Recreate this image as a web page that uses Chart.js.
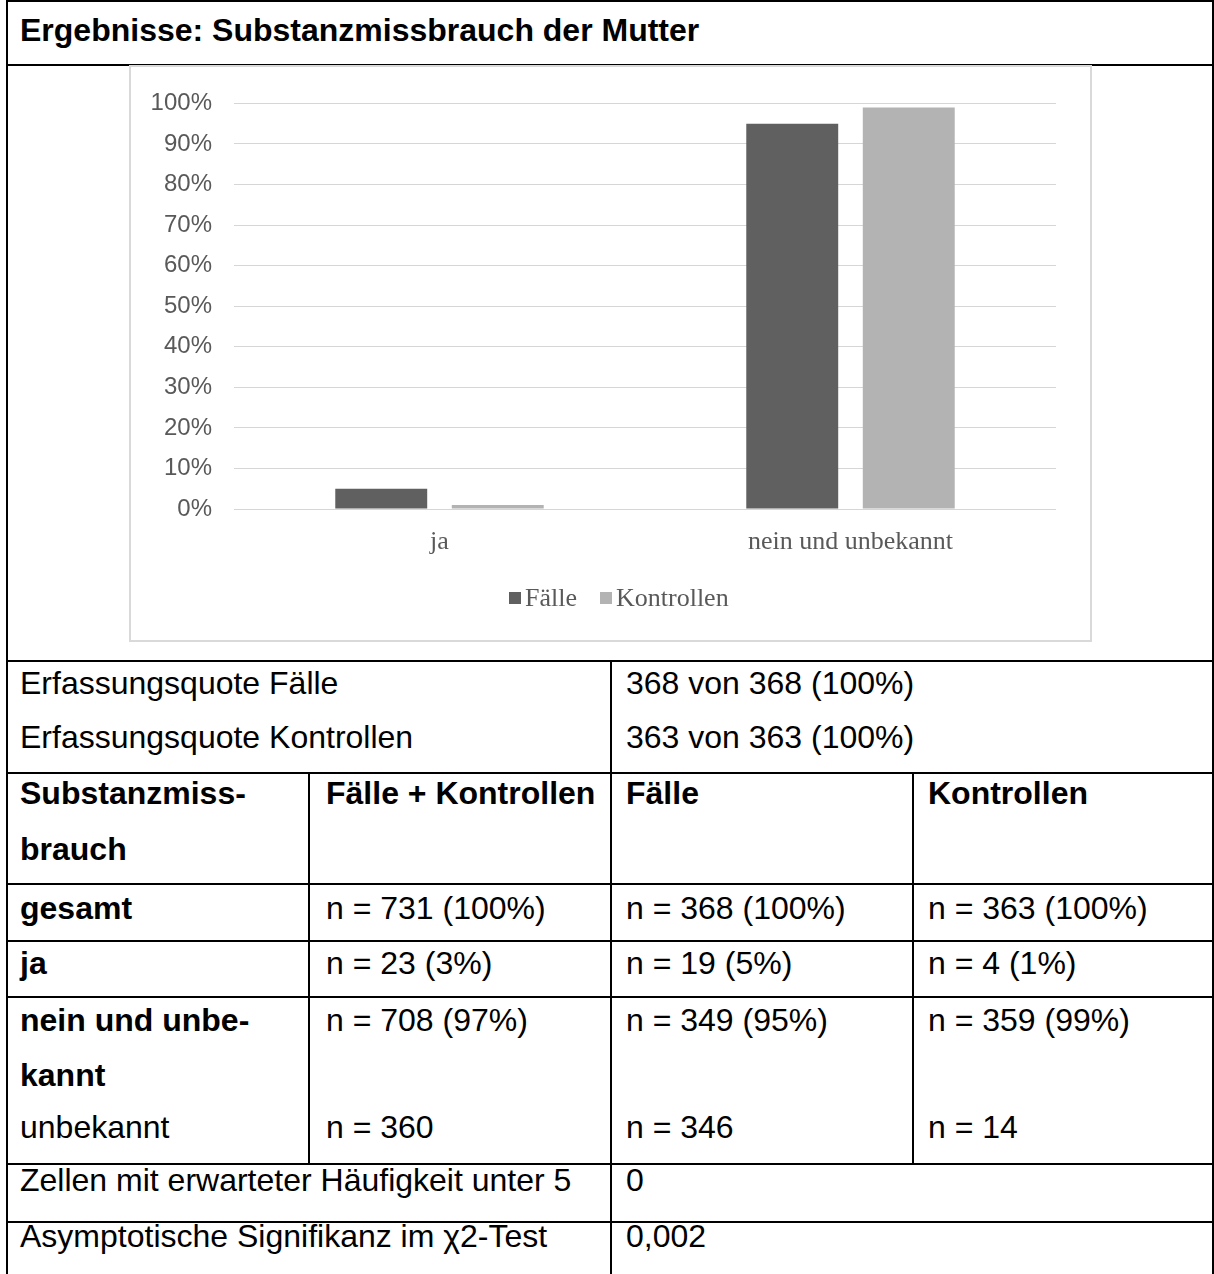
<!DOCTYPE html>
<html lang="de">
<head>
<meta charset="utf-8">
<title>Ergebnisse: Substanzmissbrauch der Mutter</title>
<script src="https://cdn.jsdelivr.net/npm/chart.js@4.4.1/dist/chart.umd.min.js"></script>
<style>
  html, body { margin: 0; padding: 0; background: #fff; }
  body {
    width: 1214px; height: 1274px; position: relative; overflow: hidden;
    font-family: "Liberation Sans", Arial, sans-serif; color: #000;
  }
  .h { position: absolute; height: 2px; background: #000; }
  .v { position: absolute; width: 2px; background: #000; }
  .t { position: absolute; font-size: 32px; line-height: 40px; height: 40px; white-space: nowrap; }
  .b { font-weight: bold; }
  #box {
    position: absolute; left: 129px; top: 65px; width: 963px; height: 577px;
    border: 2px solid #d9d9d9; box-sizing: border-box;
  }
  #chartWrap { position: absolute; left: 131px; top: 67px; width: 959px; height: 573px; }
  #legend {
    position: absolute; top: 583px; left: 509px; height: 30px;
    display: flex; align-items: center;
    font-family: "Liberation Serif", "Times New Roman", serif; font-size: 26px; color: #595959;
  }
  .item { display: flex; align-items: center; margin-right: 23px; }
  .sw { display: inline-block; width: 12px; height: 12px; margin-right: 4px; }
</style>
</head>
<body>

<!-- table rules -->
<div class="h" style="left:6px;top:0;width:1208px"></div>
<div class="h" style="left:6px;top:64px;width:1208px"></div>
<div class="h" style="left:6px;top:660px;width:1208px"></div>
<div class="h" style="left:6px;top:772px;width:1208px"></div>
<div class="h" style="left:6px;top:883px;width:1208px"></div>
<div class="h" style="left:6px;top:940px;width:1208px"></div>
<div class="h" style="left:6px;top:996px;width:1208px"></div>
<div class="h" style="left:6px;top:1163px;width:1208px"></div>
<div class="h" style="left:6px;top:1221px;width:1208px"></div>
<div class="v" style="left:6px;top:0;height:1274px"></div>
<div class="v" style="left:1212px;top:0;height:1274px"></div>
<div class="v" style="left:610px;top:660px;height:614px"></div>
<div class="v" style="left:308px;top:772px;height:392px"></div>
<div class="v" style="left:912px;top:772px;height:392px"></div>

<!-- heading -->
<div class="t b" style="left:20px;top:10px">Ergebnisse: Substanzmissbrauch der Mutter</div>

<!-- chart -->
<div id="box"></div>
<div id="chartWrap"><canvas id="c" width="959" height="573"></canvas></div>
<div id="legend"></div>

<!-- coverage -->
<div class="t" style="left:20px;top:663px">Erfassungsquote Fälle</div>
<div class="t" style="left:626px;top:663px">368 von 368 (100%)</div>
<div class="t" style="left:20px;top:717px">Erfassungsquote Kontrollen</div>
<div class="t" style="left:626px;top:717px">363 von 363 (100%)</div>

<!-- header row -->
<div class="t b" style="left:20px;top:773px">Substanzmiss-</div>
<div class="t b" style="left:20px;top:829px">brauch</div>
<div class="t b" style="left:326px;top:773px">Fälle + Kontrollen</div>
<div class="t b" style="left:626px;top:773px">Fälle</div>
<div class="t b" style="left:928px;top:773px">Kontrollen</div>

<!-- gesamt -->
<div class="t b" style="left:20px;top:888px">gesamt</div>
<div class="t" style="left:326px;top:888px">n = 731 (100%)</div>
<div class="t" style="left:626px;top:888px">n = 368 (100%)</div>
<div class="t" style="left:928px;top:888px">n = 363 (100%)</div>

<!-- ja -->
<div class="t b" style="left:20px;top:943px">ja</div>
<div class="t" style="left:326px;top:943px">n = 23 (3%)</div>
<div class="t" style="left:626px;top:943px">n = 19 (5%)</div>
<div class="t" style="left:928px;top:943px">n = 4 (1%)</div>

<!-- nein und unbekannt -->
<div class="t b" style="left:20px;top:1000px">nein und unbe-</div>
<div class="t b" style="left:20px;top:1055px">kannt</div>
<div class="t" style="left:326px;top:1000px">n = 708 (97%)</div>
<div class="t" style="left:626px;top:1000px">n = 349 (95%)</div>
<div class="t" style="left:928px;top:1000px">n = 359 (99%)</div>
<div class="t" style="left:20px;top:1107px">unbekannt</div>
<div class="t" style="left:326px;top:1107px">n = 360</div>
<div class="t" style="left:626px;top:1107px">n = 346</div>
<div class="t" style="left:928px;top:1107px">n = 14</div>

<!-- test statistics -->
<div class="t" style="left:20px;top:1160px">Zellen mit erwarteter Häufigkeit unter 5</div>
<div class="t" style="left:626px;top:1160px">0</div>
<div class="t" style="left:20px;top:1216px">Asymptotische Signifikanz im χ2-Test</div>
<div class="t" style="left:626px;top:1216px">0,002</div>

<script>
// Anteile in Prozent je Kategorie
const categories = ["ja", "nein und unbekannt"];
const seriesNames = ["Fälle", "Kontrollen"];
const faelleValues = [5, 95];
const kontrollenValues = [1, 99];
const seriesColors = ["#606060", "#b3b3b3"];
const yTickValues = [0, 10, 20, 30, 40, 50, 60, 70, 80, 90, 100];

const seriesValues = [faelleValues, kontrollenValues];

const chart = new Chart(document.getElementById("c"), {
  type: "bar",
  data: {
    labels: categories,
    datasets: seriesNames.map((name, i) => ({
      label: name,
      data: seriesValues[i],
      backgroundColor: seriesColors[i],
      borderWidth: 0,
      categoryPercentage: 0.567,
      barPercentage: 0.789
    }))
  },
  options: {
    responsive: false,
    animation: false,
    devicePixelRatio: 1,
    layout: { padding: { top: 34, right: 34, left: 0, bottom: 0 } },
    plugins: { legend: { display: false }, tooltip: { enabled: false } },
    scales: {
      x: {
        grid: { display: false, drawTicks: false },
        border: { display: false },
        ticks: {
          padding: 18,
          color: "#595959",
          font: { family: "'Liberation Serif', 'Times New Roman', serif", size: 26 }
        },
        afterFit(scale) { scale.height = 131; }
      },
      y: {
        min: yTickValues[0],
        max: yTickValues[yTickValues.length - 1],
        afterBuildTicks(scale) { scale.ticks = yTickValues.map(v => ({ value: v })); },
        ticks: {
          callback: v => v + "%",
          padding: 22,
          color: "#595959",
          font: { family: "'Liberation Sans', Arial, sans-serif", size: 24 }
        },
        grid: { color: "#d6d6d6", lineWidth: 1, drawTicks: false },
        border: { display: false },
        afterFit(scale) { scale.width = 103; }
      }
    }
  }
});

// Legende unter dem Diagramm
const legend = document.getElementById("legend");
seriesNames.forEach((name, i) => {
  const item = document.createElement("span");
  item.className = "item";
  const sw = document.createElement("span");
  sw.className = "sw";
  sw.style.background = seriesColors[i];
  item.appendChild(sw);
  item.appendChild(document.createTextNode(name));
  legend.appendChild(item);
});
</script>
</body>
</html>
